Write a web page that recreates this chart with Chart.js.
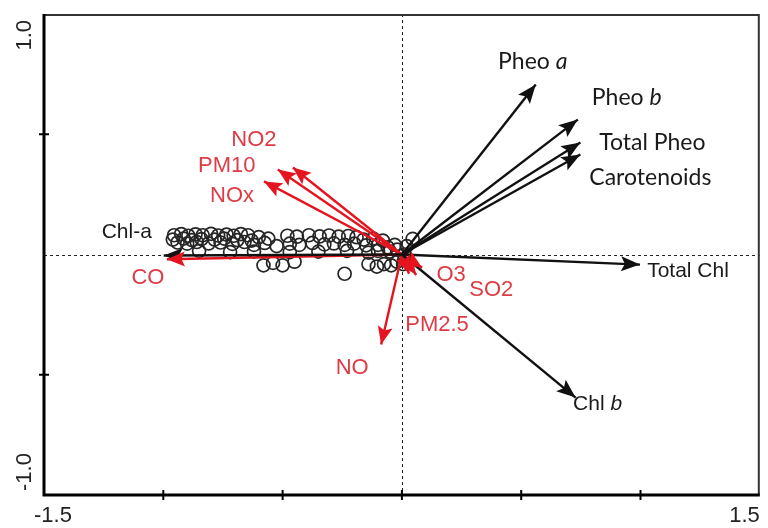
<!DOCTYPE html>
<html>
<head>
<meta charset="utf-8">
<title>RDA biplot</title>
<script src="https://cdn.jsdelivr.net/npm/chart.js@4"></script>
<style>
    html, body { margin: 0; padding: 0; background: #fff; }
    #wrap { width: 768px; height: 528px; }
</style>
</head>
<body>
<div id="wrap"><canvas id="biplot"></canvas></div>
<script>
// biplot of pigment variables (black) and air pollutants (red)

// pigment vectors (axis 1, axis 2)
var pigmentNames  = ['Pheo', 'Pheo', 'Total Pheo', 'Carotenoids', 'Total Chl', 'Chl', 'Chl-a'];
var pigmentItalic = ['a', 'b', '', '', '', 'b', ''];
var pigmentX = [0.561, 0.737, 0.748, 0.748, 0.998, 0.728, -0.998];
var pigmentY = [0.707, 0.561, 0.466, 0.416, -0.042, -0.595, -0.004];

// pollutant vectors
var pollutantNames = ['NO2', 'PM10', 'NOx', 'CO', 'NO', 'O3', 'SO2', 'PM2.5'];
var pollutantX = [-0.457, -0.520, -0.578, -0.985, -0.087, 0.085, 0.060, 0.030];
var pollutantY = [0.362, 0.353, 0.304, -0.020, -0.374, -0.055, -0.085, -0.080];

// sample scores
var siteX = [-0.955, -0.925, -0.895, -0.865, -0.835, -0.800, -0.770, -0.735, -0.705, -0.675, -0.645,
             -0.600, -0.560, -0.480, -0.440, -0.390, -0.345, -0.305, -0.265, -0.225, -0.190,
             -0.940, -0.900, -0.860, -0.810, -0.760, -0.710, -0.660, -0.620, -0.575, -0.525,
             -0.470, -0.430, -0.375, -0.325, -0.285, -0.240, -0.200, -0.150, -0.100, -0.060,
             -0.850, -0.720, -0.620, -0.470, -0.350, -0.230, -0.140, -0.100, -0.050, -0.020, 0.010, -0.030,
             -0.580, -0.540, -0.500, -0.450, -0.240, -0.140, -0.105, -0.075, -0.045, -0.020, 0.005, 0.010,
             0.045, 0.020,
             -0.960, -0.915, -0.880, -0.840, -0.785, -0.745, -0.690, -0.630, -0.160, -0.120, -0.080];
var siteY = [0.080, 0.085, 0.078, 0.084, 0.080, 0.086, 0.079, 0.083, 0.078, 0.085, 0.080,
             0.072, 0.066, 0.078, 0.074, 0.080, 0.075, 0.079, 0.074, 0.077, 0.072,
             0.050, 0.045, 0.052, 0.046, 0.050, 0.044, 0.052, 0.040, 0.048, 0.035,
             0.045, 0.040, 0.048, 0.042, 0.046, 0.040, 0.045, 0.038, 0.040, 0.030,
             0.015, 0.010, 0.012, 0.010, 0.012, 0.015, 0.008, 0.015, 0.012, 0.020, 0.000, 0.040,
             -0.045, -0.035, -0.045, -0.030, -0.080, -0.040, -0.050, -0.040, -0.045, -0.030, -0.040, -0.020,
             0.065, 0.035,
             0.062, 0.066, 0.060, 0.064, 0.062, 0.066, 0.060, 0.058, 0.062, 0.066, 0.058];

var xTickLabels = ['-1.5', '1.5'];
var yTickLabels = ['1.0', '-1.0'];

var BLACK = '#111111';
var RED = '#e5141e';
var RED_TEXT = '#de3c44';
var SANS = 'Arial, "Liberation Sans", Helvetica, sans-serif';

// label offsets from arrow tip, in pixels
var pigmentOffsets = [[-3, -23], [49, -22], [72, 0], [70, 23], [48, 7], [22, 7], [-37, -23]];
var pigmentFonts = ['lato', 'lato', 'lato', 'lato', 'arial', 'arial', 'arial'];
var pollutantOffsets = [[-39, -28], [-51, -4], [-32, 15], [-19, 19], [-29, 23], [29, 7], [75, 15], [28, 51]];

var datasets = [];
pigmentX.forEach(function(x, i) {
    datasets.push({
        kind: 'pigment', idx: i,
        data: [{ x: 0, y: 0 }, { x: x, y: pigmentY[i] }],
        showLine: true, borderColor: BLACK, borderWidth: 2.4, pointRadius: 0, order: 1
    });
});
pollutantX.forEach(function(x, i) {
    datasets.push({
        kind: 'pollutant', idx: i,
        data: [{ x: 0, y: 0 }, { x: x, y: pollutantY[i] }],
        showLine: true, borderColor: RED, borderWidth: 2.4, pointRadius: 0, order: 2
    });
});
datasets.push({
    kind: 'sites',
    data: siteX.map(function(x, i) { return { x: x, y: siteY[i] }; }),
    showLine: false,
    pointRadius: 6.5,
    pointBorderWidth: 1.7,
    pointBorderColor: '#262626',
    pointBackgroundColor: 'rgba(255,255,255,0)',
    order: 10
});

function drawArrowHead(ctx, x0, y0, x1, y1, color, len, half) {
    var a = Math.atan2(y1 - y0, x1 - x0);
    ctx.save();
    ctx.translate(x1, y1);
    ctx.rotate(a);
    ctx.beginPath();
    ctx.moveTo(0, 0);
    ctx.lineTo(-len, -half);
    ctx.lineTo(-len * 0.8, 0);
    ctx.lineTo(-len, half);
    ctx.closePath();
    ctx.fillStyle = color;
    ctx.fill();
    ctx.restore();
}

var biplotPlugin = {
    id: 'biplot',
    beforeDatasetsDraw: function(chart) {
        var ctx = chart.ctx, xs = chart.scales.x, ys = chart.scales.y;
        var a = chart.chartArea;
        ctx.save();
        ctx.strokeStyle = '#222';
        ctx.lineWidth = 1;
        ctx.setLineDash([3, 3]);
        ctx.beginPath();
        var y0 = Math.round(ys.getPixelForValue(0)) + 0.5;
        var x0 = Math.round(xs.getPixelForValue(0)) + 0.5;
        ctx.moveTo(a.left, y0); ctx.lineTo(a.right, y0);
        ctx.moveTo(x0, a.top); ctx.lineTo(x0, a.bottom);
        ctx.stroke();
        ctx.restore();
    },
    afterDatasetsDraw: function(chart) {
        var ctx = chart.ctx;
        chart.data.datasets.forEach(function(ds, di) {
            if (ds.kind === 'sites') return;
            var pts = chart.getDatasetMeta(di).data;
            var p0 = pts[0], p1 = pts[1];
            var isPig = ds.kind === 'pigment';
            drawArrowHead(ctx, p0.x, p0.y, p1.x, p1.y, isPig ? BLACK : RED, isPig ? 19 : 18, 7.5);

            var off = isPig ? pigmentOffsets[ds.idx] : pollutantOffsets[ds.idx];
            var cx = p1.x + off[0], cy = p1.y + off[1];
            ctx.save();
            ctx.textBaseline = 'middle';
            if (isPig) {
                var name = pigmentNames[ds.idx], it = pigmentItalic[ds.idx];
                var lato = pigmentFonts[ds.idx] === 'lato';
                var fNorm = lato ? '23px Lato' : '21px ' + SANS;
                var fIt = lato ? 'italic 23px Lato' : 'italic 21px ' + SANS;
                ctx.fillStyle = '#1a1a1a';
                ctx.font = fNorm;
                var main = it ? name + ' ' : name;
                var w1 = ctx.measureText(main).width;
                ctx.font = fIt;
                var w2 = it ? ctx.measureText(it).width : 0;
                var sx = cx - (w1 + w2) / 2;
                ctx.textAlign = 'left';
                ctx.font = fNorm;
                ctx.fillText(main, sx, cy);
                if (it) {
                    ctx.font = fIt;
                    ctx.fillText(it, sx + w1, cy);
                }
            } else {
                ctx.fillStyle = RED_TEXT;
                ctx.font = '22px ' + SANS;
                ctx.textAlign = 'center';
                ctx.fillText(pollutantNames[ds.idx], cx, cy);
            }
            ctx.restore();
        });
    },
    afterDraw: function(chart) {
        var ctx = chart.ctx, xs = chart.scales.x, ys = chart.scales.y;
        var a = chart.chartArea;
        ctx.save();
        // frame
        ctx.strokeStyle = '#333';
        ctx.lineWidth = 2;
        ctx.beginPath();
        ctx.moveTo(a.left, a.top + 1); ctx.lineTo(a.right - 1, a.top + 1); ctx.lineTo(a.right - 1, a.bottom);
        ctx.stroke();
        ctx.strokeStyle = '#000';
        ctx.lineWidth = 3;
        ctx.beginPath();
        ctx.moveTo(a.left, a.top); ctx.lineTo(a.left, a.bottom); ctx.lineTo(a.right, a.bottom);
        ctx.stroke();
        // tick marks
        ctx.lineWidth = 2;
        ctx.beginPath();
        [-1, -0.5, 0, 0.5, 1].forEach(function(v) {
            var px = xs.getPixelForValue(v);
            ctx.moveTo(px, a.bottom - 5); ctx.lineTo(px, a.bottom + 5);
        });
        [0.5, -0.5].forEach(function(v) {
            var py = ys.getPixelForValue(v);
            ctx.moveTo(a.left - 5, py); ctx.lineTo(a.left + 5, py);
        });
        ctx.stroke();
        // tick labels
        ctx.fillStyle = '#222';
        ctx.font = '22px ' + SANS;
        ctx.textBaseline = 'middle';
        ctx.textAlign = 'left';
        ctx.fillText(xTickLabels[0], xs.getPixelForValue(-1.5) - 10, a.bottom + 21);
        ctx.textAlign = 'right';
        ctx.fillText(xTickLabels[1], xs.getPixelForValue(1.5), a.bottom + 21);

        ctx.save();
        ctx.translate(25, ys.getPixelForValue(1.0) + 6);
        ctx.rotate(-Math.PI / 2);
        ctx.textAlign = 'right';
        ctx.fillText(yTickLabels[0], 0, 0);
        ctx.restore();
        ctx.save();
        ctx.translate(25, ys.getPixelForValue(-1.0) - 4);
        ctx.rotate(-Math.PI / 2);
        ctx.textAlign = 'left';
        ctx.fillText(yTickLabels[1], 0, 0);
        ctx.restore();
        ctx.restore();
    }
};

var ctx = document.getElementById('biplot');
new Chart(ctx, {
    type: 'scatter',
    data: { datasets: datasets },
    options: {
        responsive: true,
        maintainAspectRatio: false,
        animation: false,
        layout: { padding: { left: 44, top: 14, right: 2, bottom: 33 } },
        plugins: { legend: { display: false }, tooltip: { enabled: false } },
        scales: {
            x: { type: 'linear', min: -1.5, max: 1.5, display: false },
            y: { type: 'linear', min: -1.0, max: 1.0, display: false }
        }
    },
    plugins: [biplotPlugin]
});
</script>
</body>
</html>
